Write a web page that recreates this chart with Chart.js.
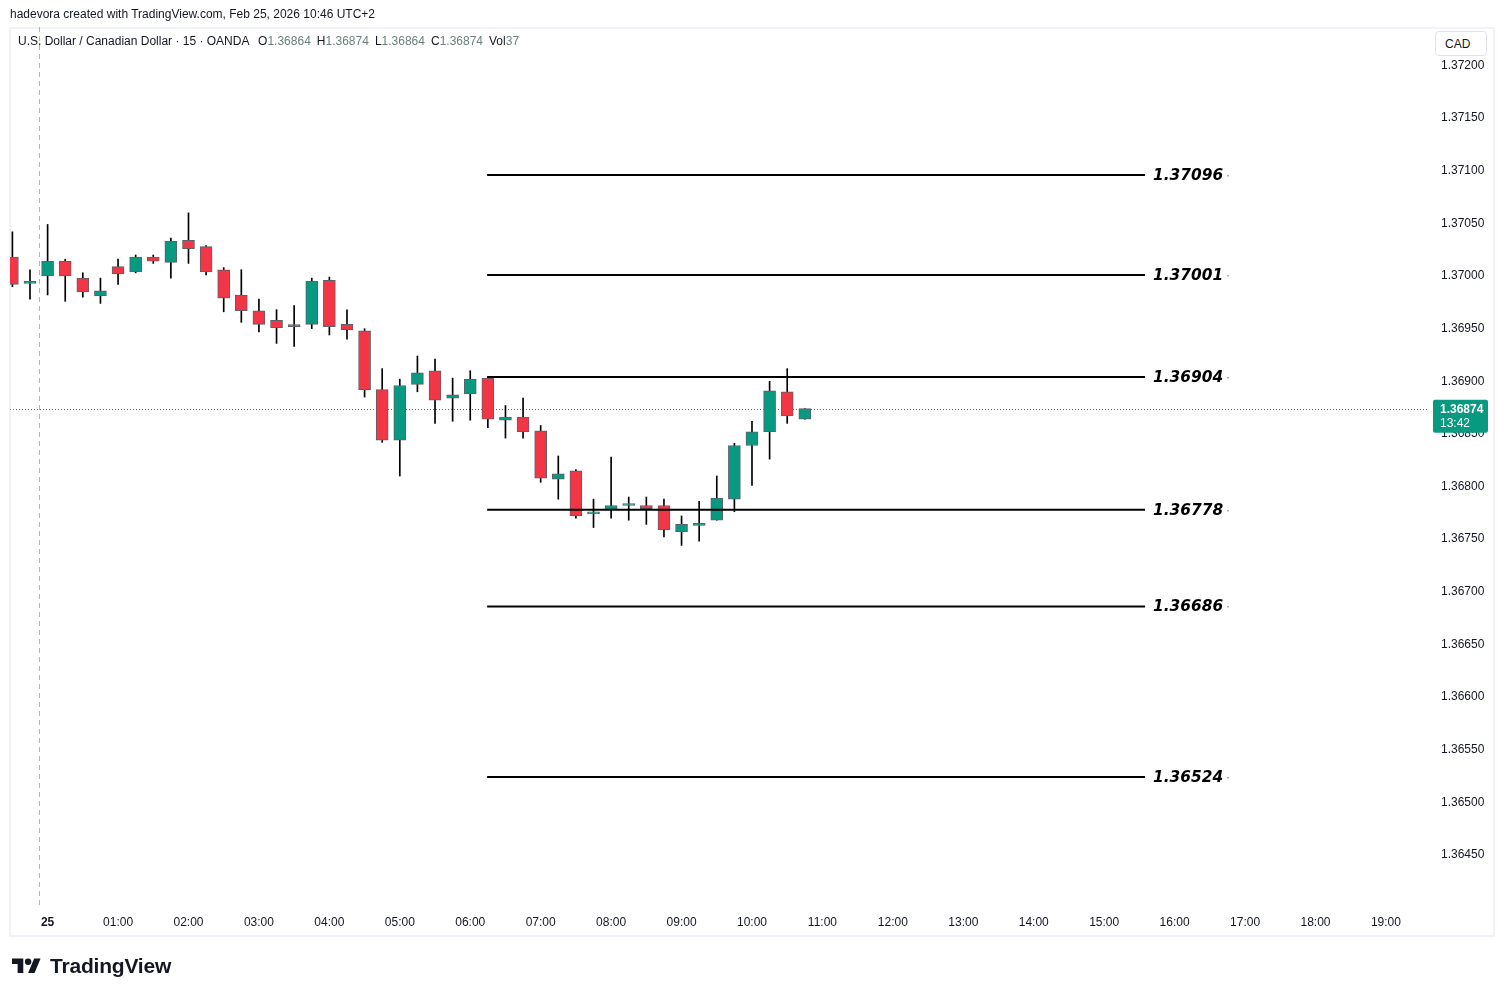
<!DOCTYPE html>
<html>
<head>
<meta charset="utf-8">
<title>USDCAD 15</title>
<script src="https://cdn.jsdelivr.net/npm/chart.js@4.4.1/dist/chart.umd.min.js"></script>
<style>
  body { margin: 0; background: #fff; font-family: "Liberation Sans", Arial, sans-serif; color: #131722; }
  #wrap { position: relative; width: 1504px; height: 996px; overflow: hidden; }
  #frame { position: absolute; left: 9px; top: 27px; width: 1482px; height: 906px; border: 2px solid #f0f3fa; }
  canvas { position: absolute; left: 0; top: 0; }
  .txt { position: absolute; font-size: 12px; white-space: nowrap; }
  #credit { left: 10px; top: 7px; }
  #legend { left: 18px; top: 34px; }
  #legend .v { color: #6a7f7b; }
  #legend .k { margin-left: 6px; }
  #cad { position: absolute; left: 1435px; top: 31px; width: 52px; height: 25px; border: 1px solid #e0e3eb; border-radius: 4px; box-sizing: border-box; font-size: 12px; line-height: 24px; padding-left: 9px; background: #fff; }
  #logo { position: absolute; left: 12px; top: 955px; height: 22px; display: flex; align-items: center; }
  #logo span { font-size: 21px; font-weight: bold; margin-left: 9px; letter-spacing: -0.2px; }
</style>
</head>
<body>
<div id="wrap">
  <div id="frame"></div>
  <canvas id="chart" width="1504" height="996"></canvas>
  <div class="txt" id="credit">hadevora created with TradingView.com, Feb 25, 2026 10:46 UTC+2</div>
  <div class="txt" id="legend">U.S. Dollar / Canadian Dollar · 15 · OANDA <span class="k">O<span class="v">1.36864</span></span><span class="k">H<span class="v">1.36874</span></span><span class="k">L<span class="v">1.36864</span></span><span class="k">C<span class="v">1.36874</span></span><span class="k">Vol<span class="v">37</span></span></div>
  <div id="cad">CAD</div>
  <div id="logo">
    <svg width="29" height="17" viewBox="0 4 36 20"><path d="M14 22H7V11H0V4h14v18z" fill="#131722"/><circle cx="20" cy="8" r="4" fill="#131722"/><path d="M28 22h-8l7.5-18h8L28 22z" fill="#131722"/></svg>
    <span>TradingView</span>
  </div>
</div>
<script>
// 15 minute candles, Feb 24 23:30 .. Feb 25 10:45
const candleTimes = ['23:30','23:45','00:00','00:15','00:30','00:45','01:00','01:15','01:30','01:45',
  '02:00','02:15','02:30','02:45','03:00','03:15','03:30','03:45','04:00','04:15',
  '04:30','04:45','05:00','05:15','05:30','05:45','06:00','06:15','06:30','06:45',
  '07:00','07:15','07:30','07:45','08:00','08:15','08:30','08:45','09:00','09:15',
  '09:30','09:45','10:00','10:15','10:30','10:45'];
const opens  = [1.37018,1.36993,1.37000,1.37014,1.36998,1.36981,1.37009,1.37004,1.37018,1.37013,
  1.37034,1.37028,1.37006,1.36982,1.36967,1.36958,1.36952,1.36954,1.36996,1.36954,
  1.36948,1.36892,1.36844,1.36897,1.36910,1.36884,1.36888,1.36903,1.36863,1.36866,
  1.36853,1.36807,1.36815,1.36774,1.36778,1.36782,1.36782,1.36782,1.36757,1.36763,
  1.36768,1.36788,1.36839,1.36852,1.36890,1.36864];
const highs  = [1.37042,1.37006,1.37049,1.37016,1.37003,1.36998,1.37016,1.37020,1.37020,1.37036,
  1.37060,1.37029,1.37008,1.37006,1.36978,1.36968,1.36972,1.36998,1.36999,1.36968,
  1.36950,1.36912,1.36902,1.36924,1.36921,1.36903,1.36910,1.36904,1.36877,1.36884,
  1.36858,1.36829,1.36816,1.36788,1.36828,1.36790,1.36790,1.36788,1.36772,1.36786,
  1.36810,1.36841,1.36862,1.36900,1.36912,1.36874];
const lows   = [1.36990,1.36978,1.36982,1.36976,1.36980,1.36974,1.36992,1.37003,1.37012,1.36998,
  1.37012,1.37001,1.36966,1.36956,1.36947,1.36936,1.36933,1.36950,1.36944,1.36940,
  1.36885,1.36842,1.36810,1.36890,1.36860,1.36862,1.36863,1.36856,1.36846,1.36846,
  1.36804,1.36788,1.36770,1.36761,1.36770,1.36768,1.36764,1.36752,1.36744,1.36748,
  1.36768,1.36776,1.36801,1.36826,1.36860,1.36864];
const closes = [1.36992,1.36994,1.37014,1.37000,1.36985,1.36986,1.37002,1.37018,1.37014,1.37033,
  1.37026,1.37004,1.36979,1.36967,1.36954,1.36951,1.36952,1.36995,1.36952,1.36949,
  1.36892,1.36844,1.36896,1.36908,1.36882,1.36887,1.36902,1.36864,1.36866,1.36852,
  1.36808,1.36812,1.36772,1.36774,1.36782,1.36782,1.36779,1.36759,1.36764,1.36765,
  1.36789,1.36839,1.36852,1.36891,1.36867,1.36874];

// horizontal levels drawn on the chart
const levels = [1.37096, 1.37001, 1.36904, 1.36778, 1.36686, 1.36524];
const levelStart = 6.24;   // hours after 00:00
const levelEnd = 15.58;

const lastPrice = 1.36874;
const lastLabel = ['1.36874', '13:42'];
const sessionBreak = -0.125;

const yTicks = [1.3720,1.3715,1.3710,1.3705,1.3700,1.3695,1.3690,1.3685,1.3680,1.3675,1.3670,1.3665,1.3660,1.3655,1.3650,1.3645];
const xTicks = [0,1,2,3,4,5,6,7,8,9,10,11,12,13,14,15,16,17,18,19];

const UP = '#089981', DOWN = '#f23645', BORDER = '#5d606b';

function toHours(t) {
  let [h, m] = t.split(':').map(Number);
  let v = h + m / 60;
  return t.startsWith('23') ? v - 24 : v;
}
const xs = candleTimes.map(toHours);

const bodies = xs.map((x, i) => ({x: x, y: [opens[i], closes[i]]}));
const wicks = xs.map((x, i) => ({x: x, y: [lows[i], highs[i]]}));
const colors = opens.map((o, i) => closes[i] >= o ? UP : DOWN);

const datasets = [
  {type: 'bar', data: bodies, backgroundColor: colors, borderColor: BORDER, borderWidth: 1,
   borderSkipped: false, barThickness: 12, grouped: false, minBarLength: 2, order: 1},
  {type: 'bar', data: wicks, backgroundColor: '#000', borderWidth: 0,
   barThickness: 1, grouped: false, order: 2}
];
levels.forEach(v => {
  datasets.push({type: 'line', data: [{x: levelStart, y: v}, {x: levelEnd, y: v}],
    borderColor: '#000', borderWidth: 2, pointRadius: 0, order: 0});
});

function noPad(s) {
  s.paddingLeft = 0; s.paddingRight = 0; s.paddingTop = 0; s.paddingBottom = 0;
}

const overlay = {
  id: 'overlay',
  beforeDatasetsDraw(chart) {
    const {ctx, chartArea: a, scales: {x, y}} = chart;
    ctx.save();
    // session break
    const sx = Math.round(x.getPixelForValue(sessionBreak)) + 0.5;
    ctx.strokeStyle = '#b2b5be';
    ctx.lineWidth = 1;
    ctx.setLineDash([5, 4]);
    ctx.beginPath(); ctx.moveTo(sx, a.top); ctx.lineTo(sx, a.bottom); ctx.stroke();
    // last price line
    const py = Math.round(y.getPixelForValue(lastPrice)) + 0.5;
    ctx.strokeStyle = UP;
    ctx.setLineDash([1, 2]);
    ctx.beginPath(); ctx.moveTo(a.left, py); ctx.lineTo(a.right, py); ctx.stroke();
    ctx.restore();
  },
  afterDraw(chart) {
    const {ctx, chartArea: a, scales: {x, y}} = chart;
    ctx.save();
    // level labels
    ctx.textBaseline = 'middle';
    ctx.textAlign = 'left';
    levels.forEach(v => {
      const ly = y.getPixelForValue(v);
      const lx = x.getPixelForValue(levelEnd) + 8;
      ctx.font = 'italic bold 15.4px "DejaVu Sans", sans-serif';
      ctx.fillStyle = '#000';
      ctx.fillText(v.toFixed(5), lx, ly + 1);
      const w = ctx.measureText(v.toFixed(5)).width;
      ctx.fillStyle = '#9598a1';
      ctx.fillRect(lx + w + 4, Math.round(ly), 1.5, 1.5);
    });
    // last price tag on the axis
    const py = y.getPixelForValue(lastPrice);
    ctx.fillStyle = UP;
    ctx.beginPath();
    ctx.roundRect(a.right + 6, py - 9, 55, 33, 2);
    ctx.fill();
    ctx.fillStyle = '#fff';
    ctx.font = 'bold 12px "Liberation Sans", Arial, sans-serif';
    ctx.fillText(lastLabel[0], a.right + 13, py + 1);
    ctx.font = '12px "Liberation Sans", Arial, sans-serif';
    ctx.fillText(lastLabel[1], a.right + 13, py + 15);
    ctx.restore();
  }
};

new Chart(document.getElementById('chart'), {
  data: {datasets: datasets},
  options: {
    responsive: false,
    devicePixelRatio: 1,
    animation: false,
    layout: {padding: {left: 10, top: 27, right: 10, bottom: 60}},
    plugins: {legend: {display: false}, tooltip: {enabled: false}},
    scales: {
      x: {
        type: 'linear', min: -0.534, max: 19.583, offset: false,
        grid: {display: false, drawTicks: false, offset: false}, border: {display: false},
        afterFit(s) { s.height = 31; noPad(s); },
        afterBuildTicks(s) { s.ticks = xTicks.map(v => ({value: v})); },
        ticks: {
          padding: 10, maxRotation: 0, autoSkip: false, color: '#131722',
          font: c => ({family: '"Liberation Sans", Arial, sans-serif', size: 12, weight: c.tick && c.tick.value === 0 ? 'bold' : 'normal'}),
          callback: v => v === 0 ? '25' : String(v).padStart(2, '0') + ':00'
        }
      },
      y: {
        type: 'linear', position: 'right', min: 1.3640237, max: 1.3723662,
        grid: {display: false, drawTicks: false}, border: {display: false},
        afterFit(s) { s.width = 67; noPad(s); },
        afterBuildTicks(s) { s.ticks = yTicks.map(v => ({value: v})); },
        ticks: {
          padding: 14, color: '#131722',
          font: {family: '"Liberation Sans", Arial, sans-serif', size: 12},
          callback: v => v.toFixed(5)
        }
      }
    }
  },
  plugins: [overlay]
});
</script>
</body>
</html>
